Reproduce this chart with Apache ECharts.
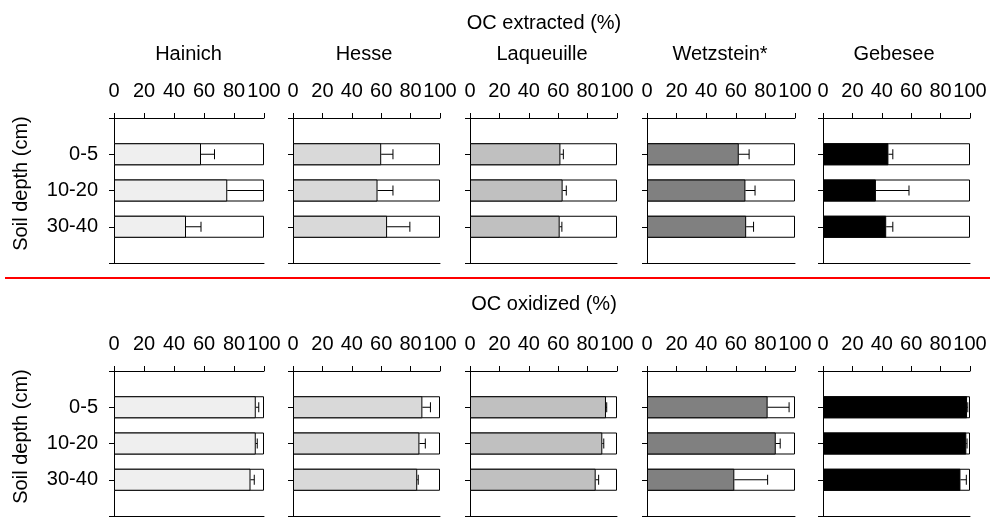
<!DOCTYPE html>
<html>
<head>
<meta charset="utf-8">
<title>OC extracted and oxidized by soil depth</title>
<script src="https://cdn.jsdelivr.net/npm/echarts@6/dist/echarts.min.js"></script>
<style>
  html, body { margin: 0; padding: 0; background: #fff; }
  #chart { width: 990px; height: 519px; }
</style>
</head>
<body>
<div id="chart"></div>
<script>
// Sites (columns) and sampled depths (rows of bars)
const sites = ['Hainich', 'Hesse', 'Laqueuille', 'Wetzstein*', 'Gebesee'];
const siteColors = ['#efefef', '#d9d9d9', '#c0c0c0', '#808080', '#000000'];
const depths = ['0-5', '10-20', '30-40'];
const tickValues = [0, 20, 40, 60, 80, 100];

// OC extracted (%), one row per site, values per depth
const extractedMean = [
  [58, 75.5, 48],
  [60, 57.5, 64],
  [61.5, 63, 61],
  [62, 66.5, 67],
  [44.5, 36, 43]
];
const extractedErr = [
  [9, 30, 10],
  [8, 10.5, 15.5],
  [2, 2.5, 1.5],
  [7, 6.5, 5],
  [3, 22.5, 4.5]
];

// OC oxidized (%)
const oxidizedMean = [
  [94.5, 94.5, 91],
  [88, 86, 84.5],
  [92.5, 90, 85.5],
  [81.5, 87, 59],
  [98, 97.5, 93.5]
];
const oxidizedErr = [
  [2, 1, 2.5],
  [5.5, 4, 0.7],
  [0.5, 1, 2],
  [14.5, 3, 22.5],
  [0.5, 0.5, 4]
];

const panels = [
  { title: 'OC extracted (%)', mean: extractedMean, err: extractedErr },
  { title: 'OC oxidized (%)', mean: oxidizedMean, err: oxidizedErr }
];

const FONT = '"Liberation Sans", Arial, Helvetica, sans-serif';
const scaleMin = tickValues[0];
const scaleMax = tickValues[tickValues.length - 1];
const tickStep = tickValues[1] - tickValues[0];

// Depth axis: empty slots at both ends give the half-step padding above and below the bars
const depthSlots = [''].concat(depths, ['']);
const padRow = arr => ['-'].concat(arr, ['-']);

const gridLefts = [114, 293, 470, 647, 823];
const gridWidths = [150, 147, 147, 148, 147];
const rowTops = [118, 371];
const rowHeight = 145;

const grid = [], xAxis = [], yAxis = [], series = [];

panels.forEach((panel, r) => {
  sites.forEach((site, c) => {
    const g = r * sites.length + c;
    grid.push({ left: gridLefts[c], top: rowTops[r], width: gridWidths[c], height: rowHeight });

    const lineStyle = { color: '#000', width: 1 };
    xAxis.push({
      gridIndex: g, type: 'value', position: 'top',
      min: scaleMin, max: scaleMax, interval: tickStep,
      axisLine: { show: true, lineStyle },
      axisTick: { show: true, length: 5, lineStyle },
      axisLabel: { fontSize: 20, color: '#000', fontFamily: FONT, margin: 17 },
      splitLine: { show: false }
    });
    xAxis.push({
      gridIndex: g, type: 'value', position: 'bottom',
      min: scaleMin, max: scaleMax,
      axisLine: { show: true, lineStyle },
      axisTick: { show: false }, axisLabel: { show: false }, splitLine: { show: false }
    });
    yAxis.push({
      gridIndex: g, type: 'category', data: depthSlots, inverse: true, boundaryGap: false,
      axisLine: { show: true, onZero: false, lineStyle },
      axisTick: { show: true, length: 5, lineStyle },
      axisLabel: { show: c === 0, fontSize: 20, color: '#000', fontFamily: FONT, margin: 16 },
      splitLine: { show: false }
    });

    const xi = g * 2;
    // full-scale frame behind each bar
    series.push({
      type: 'bar', xAxisIndex: xi, yAxisIndex: g,
      data: padRow(depths.map(() => scaleMax)),
      barWidth: 22, barGap: '-100%', silent: true,
      itemStyle: { color: '#fff', borderColor: '#000', borderWidth: 1 },
      z: 1
    });
    // measured mean
    series.push({
      type: 'bar', xAxisIndex: xi, yAxisIndex: g,
      data: padRow(panel.mean[c]),
      barWidth: 22, barGap: '-100%',
      itemStyle: { color: siteColors[c], borderColor: '#000', borderWidth: 1 },
      z: 2
    });
    // one-sided error whiskers
    series.push({
      type: 'custom', xAxisIndex: xi, yAxisIndex: g,
      data: depths.map((d, i) => [panel.mean[c][i], i + 1, panel.err[c][i]]),
      encode: { x: 0, y: 1 },
      z: 3,
      renderItem: (params, api) => {
        const v = api.value(0), k = api.value(1), e = api.value(2);
        const top = v + e;
        const end = Math.min(top, scaleMax);
        const p0 = api.coord([v, k]);
        const p1 = api.coord([end, k]);
        const children = [{
          type: 'line',
          shape: { x1: p0[0], y1: p0[1], x2: p1[0], y2: p1[1] },
          style: { stroke: '#000', lineWidth: 1 }
        }];
        if (top <= scaleMax) {
          children.push({
            type: 'line',
            shape: { x1: p1[0], y1: p1[1] - 5, x2: p1[0], y2: p1[1] + 5 },
            style: { stroke: '#000', lineWidth: 1 }
          });
        }
        return { type: 'group', children };
      }
    });
  });
});

// Titles, site names, depth axis names and the divider
const graphic = [];
const siteCenters = [188.5, 364, 542, 720, 894];
const titleY = [23, 304];
panels.forEach((panel, r) => {
  graphic.push({
    type: 'text', x: 544, y: titleY[r],
    style: { text: panel.title, fill: '#000', font: '20px ' + FONT, align: 'center', verticalAlign: 'middle' }
  });
  graphic.push({
    type: 'text', x: 21, y: rowTops[r] + rowHeight / 2 - 7, rotation: Math.PI / 2,
    style: { text: 'Soil depth (cm)', fill: '#000', font: '20px ' + FONT, align: 'center', verticalAlign: 'middle' }
  });
});
sites.forEach((site, c) => {
  graphic.push({
    type: 'text', x: siteCenters[c], y: 54,
    style: { text: site, fill: '#000', font: '20px ' + FONT, align: 'center', verticalAlign: 'middle' }
  });
});
graphic.push({
  type: 'line',
  shape: { x1: 5, y1: 278, x2: 990, y2: 278 },
  style: { stroke: '#ff0000', lineWidth: 2 }
});

const chart = echarts.init(document.getElementById('chart'), null, { renderer: 'canvas' });
chart.setOption({
  animation: false,
  backgroundColor: '#fff',
  grid, xAxis, yAxis, series, graphic
});
</script>
</body>
</html>
